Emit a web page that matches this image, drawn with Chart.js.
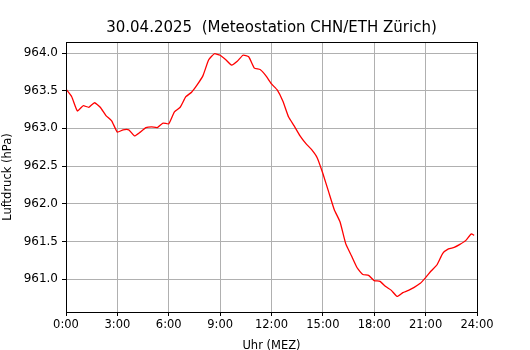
<!DOCTYPE html>
<html>
<head>
<meta charset="utf-8">
<script src="https://cdn.jsdelivr.net/npm/chart.js@4.4.1/dist/chart.umd.min.js"></script>
<style>
  html, body { margin: 0; padding: 0; background: #fff; }
  #wrap { width: 530px; height: 350px; }
</style>
</head>
<body>
<div id="wrap"><canvas id="myChart" width="530" height="350"></canvas></div>
<script>
// Hours since midnight (every 20 minutes) and air pressure in hPa
const hours = [
  0, 0.333, 0.667, 1, 1.333, 1.667, 2, 2.333, 2.667, 3, 3.333, 3.667,
  4, 4.333, 4.667, 5, 5.333, 5.667, 6, 6.333, 6.667, 7, 7.333, 7.667,
  8, 8.333, 8.667, 9, 9.333, 9.667, 10, 10.333, 10.667, 11, 11.333, 11.667,
  12, 12.333, 12.667, 13, 13.333, 13.667, 14, 14.333, 14.667, 15, 15.333, 15.667,
  16, 16.333, 16.667, 17, 17.333, 17.667, 18, 18.333, 18.667, 19, 19.333, 19.667,
  20, 20.333, 20.667, 21, 21.333, 21.667, 22, 22.333, 22.667, 23, 23.333, 23.667, 23.833
];
const pressure = [
  963.52, 963.42, 963.23, 963.30, 963.28, 963.34, 963.28, 963.17, 963.10, 962.95, 962.98, 962.98,
  962.90, 962.95, 963.01, 963.02, 963.01, 963.07, 963.06, 963.22, 963.28, 963.42, 963.48, 963.58,
  963.70, 963.91, 963.99, 963.97, 963.91, 963.84, 963.89, 963.97, 963.95, 963.80, 963.78, 963.70,
  963.59, 963.51, 963.36, 963.15, 963.03, 962.90, 962.80, 962.72, 962.61, 962.40, 962.16, 961.92,
  961.76, 961.47, 961.31, 961.15, 961.06, 961.05, 960.98, 960.97, 960.90, 960.85, 960.77, 960.82,
  960.85, 960.89, 960.94, 961.02, 961.11, 961.19, 961.34, 961.40, 961.42, 961.46, 961.51, 961.60, 961.58
];
const xTicks = [0, 3, 6, 9, 12, 15, 18, 21, 24];
const yTicks = [961.0, 961.5, 962.0, 962.5, 963.0, 963.5, 964.0];
const titleText = '30.04.2025  (Meteostation CHN/ETH Zürich)';
const yTitle = 'Luftdruck (hPa)';

const font = 'DejaVu Sans';

const frame = {
  id: 'frame',
  afterDraw(chart) {
    const { ctx, chartArea: a } = chart;
    ctx.save();
    ctx.strokeStyle = '#000';
    ctx.lineWidth = 1;
    ctx.strokeRect(Math.round(a.left) + 0.5, Math.round(a.top) + 0.5,
      Math.round(a.right - a.left), Math.round(a.bottom - a.top));
    ctx.fillStyle = '#000';
    ctx.font = '15px ' + font;
    ctx.textAlign = 'center';
    ctx.textBaseline = 'middle';
    ctx.fillText(titleText, (a.left + a.right) / 2, 28);
    // y axis title
    ctx.font = '11.5px ' + font;
    ctx.translate(8, (a.top + a.bottom) / 2);
    ctx.rotate(-Math.PI / 2);
    ctx.fillText(yTitle, 0, 0);
    ctx.restore();
  }
};

const config = {
  type: 'line',
  data: {
    datasets: [{
      data: hours.map((h, i) => ({ x: h, y: pressure[i] })),
      borderColor: '#ff0000',
      borderWidth: 1.3,
      pointRadius: 0,
      tension: 0.15,
      fill: false
    }]
  },
  options: {
    responsive: false,
    animation: false,
    layout: { padding: { top: 42, right: 53, left: 0, bottom: 0 } },
    plugins: { legend: { display: false }, tooltip: { enabled: false } },
    scales: {
      x: {
        type: 'linear',
        min: 0,
        max: 24,
        afterBuildTicks: s => { s.ticks = xTicks.map(v => ({ value: v })); },
        afterFit: s => { s.height = 38; },
        ticks: {
          color: '#000',
          font: { family: font, size: 11.5 },
          padding: 2,
          maxRotation: 0,
          callback: v => v + ':00'
        },
        grid: { color: '#b0b0b0', lineWidth: 1, tickColor: '#000', tickLength: 4 },
        border: { color: '#000' },
        title: {
          display: true,
          text: 'Uhr (MEZ)',
          color: '#000',
          font: { family: font, size: 11.5 },
          padding: { top: 0, bottom: -3 }
        }
      },
      y: {
        min: 960.563,
        max: 964.146,
        afterBuildTicks: s => { s.ticks = yTicks.map(v => ({ value: v })); },
        afterFit: s => { s.width = 66; },
        ticks: {
          color: '#000',
          font: { family: font, size: 12 },
          padding: 4,
          callback: v => v.toFixed(1)
        },
        grid: { color: '#b0b0b0', lineWidth: 1, tickColor: '#000', tickLength: 4 },
        border: { color: '#000' }
      }
    }
  },
  plugins: [frame]
};

const myChart = new Chart(document.getElementById('myChart').getContext('2d'), config);
</script>
</body>
</html>
